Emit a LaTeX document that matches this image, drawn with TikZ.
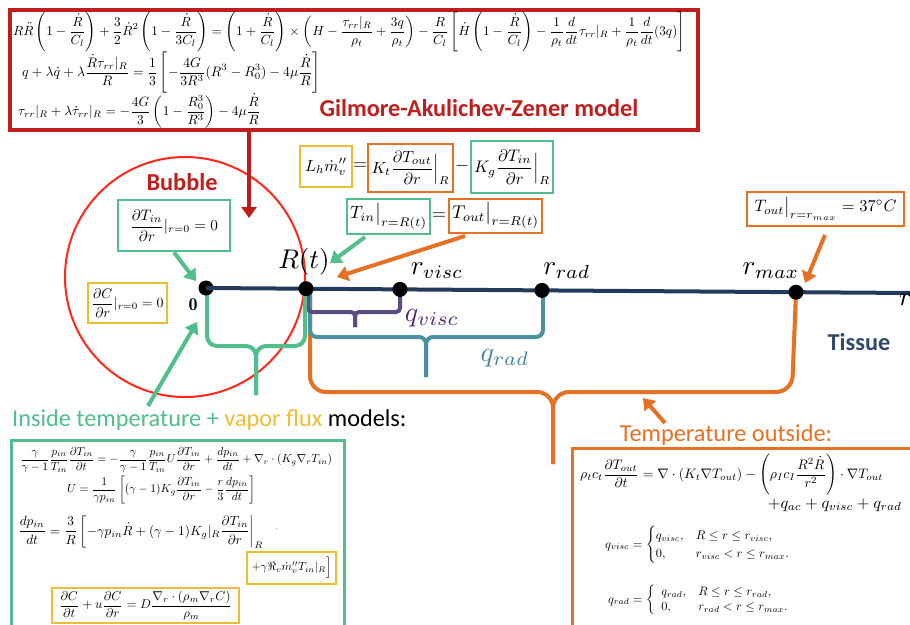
\documentclass[tikz,border=0pt]{standalone}
\usepackage{amsmath,amssymb}
\usepackage{graphicx}
\usepackage{fontspec}
\newfontfamily\carlito{Carlito}
\usetikzlibrary{arrows.meta,calc}
\definecolor{cgr}{RGB}{82,190,140}
\definecolor{cyl}{RGB}{238,190,50}
\definecolor{cor}{RGB}{230,112,35}
\definecolor{cdr}{RGB}{192,30,28}
\definecolor{cbr}{RGB}{255,40,25}
\definecolor{cnavy}{RGB}{35,58,92}
\definecolor{ctis}{RGB}{50,72,105}
\definecolor{cpur}{RGB}{92,75,130}
\definecolor{cpurt}{RGB}{80,40,120}
\definecolor{cteal}{RGB}{75,145,160}
\definecolor{ctealt}{RGB}{70,130,150}
\newcommand\fsz[1]{\fontsize{#1}{#1}\selectfont}
\newcommand\rzeq[2]{\resizebox{#1pt}{!}{$\displaystyle #2$}}
\newcommand\rzm[2]{\scalebox{#1}{$#2$}}
\begin{document}
\begin{tikzpicture}[x=1pt,y=-1pt,
  bx/.style={draw, line width=2.8pt, inner sep=0pt, fill=white},
  gbx/.style={bx, draw=cgr},
  ybx/.style={bx, draw=cyl},
  obx/.style={bx, draw=cor},
  arr/.style={line width=4pt, -{Triangle[length=11pt,width=15pt]}},
  axdot/.style={circle, fill=black, minimum size=15pt, inner sep=0pt},
  lbl/.style={inner sep=0pt},
  sans/.style={inner sep=0pt, font=\carlito\fsz{24.3}},
  sansb/.style={inner sep=0pt, font=\carlito\fsz{24.3}\bfseries},
  bracepath/.style={line width=4pt, rounded corners=#1},
]
\useasboundingbox (0,0) rectangle (910,624);
\fill[white] (0,0) rectangle (910,624);

% bubble
\draw[cbr, line width=2pt] (185,277) circle[radius=120pt];

% top model box
\node[draw=cdr, line width=3.5pt, minimum width=688pt, minimum height=120pt, inner sep=0pt] (gaz) at (354,70) {};
\node[lbl, anchor=west] (l1) at (13,32) {\rzeq{672}{R\ddot R\left(1-\frac{\dot R}{C_l}\right)+\frac32\dot R^2\left(1-\frac{\dot R}{3C_l}\right)=\left(1+\frac{\dot R}{C_l}\right)\times\left(H-\frac{\tau_{rr}|_R}{\rho_t}+\frac{3q}{\rho_t}\right)-\frac{R}{C_l}\left[\dot H\left(1-\frac{\dot R}{C_l}\right)-\frac{1}{\rho_t}\frac{d}{dt}\tau_{rr}|_R+\frac{1}{\rho_t}\frac{d}{dt}(3q)\right]}};
\node[lbl, anchor=west] (l2) at (22,73) {\rzeq{298}{q+\lambda\dot q+\lambda\frac{\dot R\tau_{rr}|_R}{R}=\frac13\left[-\frac{4G}{3R^3}(R^3-R_0^3)-4\mu\frac{\dot R}{R}\right]}};
\node[lbl, anchor=west] (l3) at (18,111) {\rzeq{242}{\tau_{rr}|_R+\lambda\dot\tau_{rr}|_R=-\frac{4G}{3}\left(1-\frac{R_0^3}{R^3}\right)-4\mu\frac{\dot R}{R}}};
\node[sansb, text=cdr] (gaztitle) at (479,108) {Gilmore-Akulichev-Zener model};

\coordinate (redend) at (249,218);
\draw[arr, cdr] (gaz.south -| redend) -- (redend);

\node[sansb, text=cdr] (bubble) at (182,182) {Bubble};

% interface equations
\node[ybx, minimum width=52pt, minimum height=41pt] (lh) at (326,166.5) {\rzeq{42}{L_h\dot m''_v}};
\node[lbl] (eqa) at (360,166) {\rzm{1.8}{=}};
\node[obx, minimum width=85pt, minimum height=48pt] (kt) at (410.5,168) {\rzeq{78}{K_t\frac{\partial T_{out}}{\partial r}\Big|_R}};
\node[lbl] (mina) at (462,166) {\rzm{1.8}{-}};
\node[gbx, minimum width=82pt, minimum height=52pt] (kg) at (512,167) {\rzeq{76}{K_g\frac{\partial T_{in}}{\partial r}\Big|_R}};
\node[gbx, minimum width=83pt, minimum height=35pt] (tin) at (388.5,216.5) {\rzeq{77}{T_{in}\big|_{r=R(t)}}};
\node[lbl] (eqb) at (439,216) {\rzm{1.8}{=}};
\node[obx, minimum width=93pt, minimum height=34pt] (tout) at (495.5,216) {\rzeq{87}{T_{out}\big|_{r=R(t)}}};
\node[obx, minimum width=157pt, minimum height=34pt] (tmax) at (825.5,209) {\rzeq{142}{T_{out}\big|_{r=r_{max}}=37^\circ C}};
\node[gbx, minimum width=112pt, minimum height=51pt] (dt0) at (174,225.5) {\rzeq{88}{\frac{\partial T_{in}}{\partial r}|_{r=0}=0}};
\node[ybx, minimum width=79pt, minimum height=40pt] (dc0) at (127.5,303) {\rzeq{72}{\frac{\partial C}{\partial r}|_{r=0}=0}};

% braces
\draw[bracepath=16pt, cor] (310,290) -- (310,392) -- (553,392) -- (553,464);
\draw[bracepath=16pt, cor] (796,292) -- (792,392) -- (553,392) -- (553,464);
\draw[bracepath=7pt, cteal] (310,290) -- (310,337) -- (426,337) -- (426,377);
\draw[bracepath=7pt, cteal] (543,290) -- (543,337) -- (426,337) -- (426,377);
\draw[bracepath=4pt, cpur] (308,290) -- (308,312) -- (355,312) -- (355,327);
\draw[bracepath=4pt, cpur] (400,290) -- (400,312) -- (355,312) -- (355,327);
\draw[bracepath=10pt, cgr] (207,290) -- (207,346) -- (256,346) -- (256,395);
\draw[bracepath=10pt, cgr] (305,290) -- (305,346) -- (256,346) -- (256,395);

% axis
\coordinate (axend) at (912,293);
\node[axdot] (p0) at (206,288) {};
\draw[cnavy, line width=4pt] (p0.center) -- (axend);
\node[axdot] (pR) at (306,288.7) {};
\node[axdot] (pv) at (400,289.4) {};
\node[axdot] (pr) at (542,290.4) {};
\node[axdot] (pm) at (796,292.2) {};

\node[lbl] (l0) at (193,305) {\rzm{1.8}{\mathbf{0}}};
\node[lbl] (lR) at (304,262) {\rzm{2.7}{R(t)}};
\node[lbl] (lv) at (437,271) {\rzm{2.7}{r_{visc}}};
\node[lbl] (lr) at (567,271) {\rzm{2.7}{r_{rad}}};
\node[lbl] (lm) at (771,271) {\rzm{2.7}{r_{max}}};
\node[lbl, anchor=west] (lraxis) at (899,300) {\rzm{2.7}{r}};
\node[lbl] (qv) at (432,318) {\color{cpurt}\rzm{2.8}{q_{visc}}};
\node[lbl] (qr) at (505,358) {\color{ctealt}\rzm{2.8}{q_{rad}}};
\node[sansb, text=ctis] (tissue) at (859,342) {Tissue};

% arrows to axis
\coordinate (a1) at (196,281);
\draw[arr, cgr] (dt0.south) -- (a1);
\coordinate (a2) at (330,263);
\coordinate (a2s) at (365,237);
\draw[arr, cgr] (a2s) -- (a2);
\coordinate (a3) at (337,277);
\coordinate (a3s) at (465,236);
\draw[arr, cor] (a3s) -- (a3);
\coordinate (a4) at (805,283);
\coordinate (a4s) at (825,235);
\draw[arr, cor] (a4s) -- (a4);

% inside models
\node[sans, anchor=west] (intitle) at (12,420) {{\color{cgr}Inside temperature +} {\color{cyl}vapor flux} models:};
\coordinate (a5) at (197,322);
\coordinate (a5s) at (148,406);
\draw[arr, cgr] (a5s) -- (a5);
\node[gbx, fill=none, minimum width=333pt, minimum height=200pt, anchor=north west] (inbox) at (10,439) {};
\node[lbl, anchor=west] (e1) at (20,460) {\rzeq{312}{\frac{\gamma}{\gamma-1}\frac{p_{in}}{T_{in}}\frac{\partial T_{in}}{\partial t}=-\frac{\gamma}{\gamma-1}\frac{p_{in}}{T_{in}}U\frac{\partial T_{in}}{\partial r}+\frac{dp_{in}}{dt}+\nabla_r\cdot(K_g\nabla_r T_{in})}};
\node[lbl, anchor=west] (e2) at (67,490) {\rzeq{188}{U=\frac{1}{\gamma p_{in}}\left[(\gamma-1)K_g\frac{\partial T_{in}}{\partial r}-\frac{r}{3}\frac{dp_{in}}{dt}\right]}};
\node[lbl, anchor=west] (e3) at (18,532) {\rzeq{245}{\frac{dp_{in}}{dt}=\frac{3}{R}\left[-\gamma p_{in}\dot R+(\gamma-1)K_g|_R\frac{\partial T_{in}}{\partial r}\right|_R}};
\node[lbl] (e3dot) at (277,529) {\rzm{0.8}{.}};
\node[ybx, minimum width=89pt, minimum height=32pt] (e4) at (291.5,568) {\rzeq{80}{+\gamma\Re_v\dot m''_v T_{in}|_R\Big]}};
\node[ybx, minimum width=187pt, minimum height=35pt] (e5) at (145.5,605.5) {\rzeq{173}{\frac{\partial C}{\partial t}+u\frac{\partial C}{\partial r}=D\frac{\nabla_r\cdot(\rho_m\nabla_r C)}{\rho_m}}};

% outside models
\node[sans, text=cor] (outtitle) at (726,435) {Temperature outside:};
\coordinate (a6) at (643,398);
\coordinate (a6s) at (665,423);
\draw[arr, cor] (a6s) -- (a6);
\node[obx, fill=none, minimum width=350pt, minimum height=200pt, anchor=north west] (outbox) at (571,447) {};
\node[lbl, anchor=west] (f1) at (580,475) {\rzeq{303}{\rho_t c_t\frac{\partial T_{out}}{\partial t}=\nabla\cdot(K_t\nabla T_{out})-\left(\rho_I c_I\frac{R^2\dot R}{r^2}\right)\cdot\nabla T_{out}}};
\node[lbl, anchor=east] (f1b) at (902,505) {\rzeq{134}{+q_{ac}+q_{visc}+q_{rad}}};
\node[lbl, anchor=west] (f2) at (605,545) {\rzeq{185}{q_{visc}=\begin{cases}q_{visc}, & R\le r\le r_{visc},\\ 0, & r_{visc}<r\le r_{max}.\end{cases}}};
\node[lbl, anchor=west] (f3) at (608,600) {\rzeq{187}{q_{rad}=\left\{\begin{array}{ll}q_{rad}, & R\le r\le r_{rad},\\ 0, & r_{rad}<r\le r_{max}.\end{array}\right.}};
\end{tikzpicture}
\end{document}
